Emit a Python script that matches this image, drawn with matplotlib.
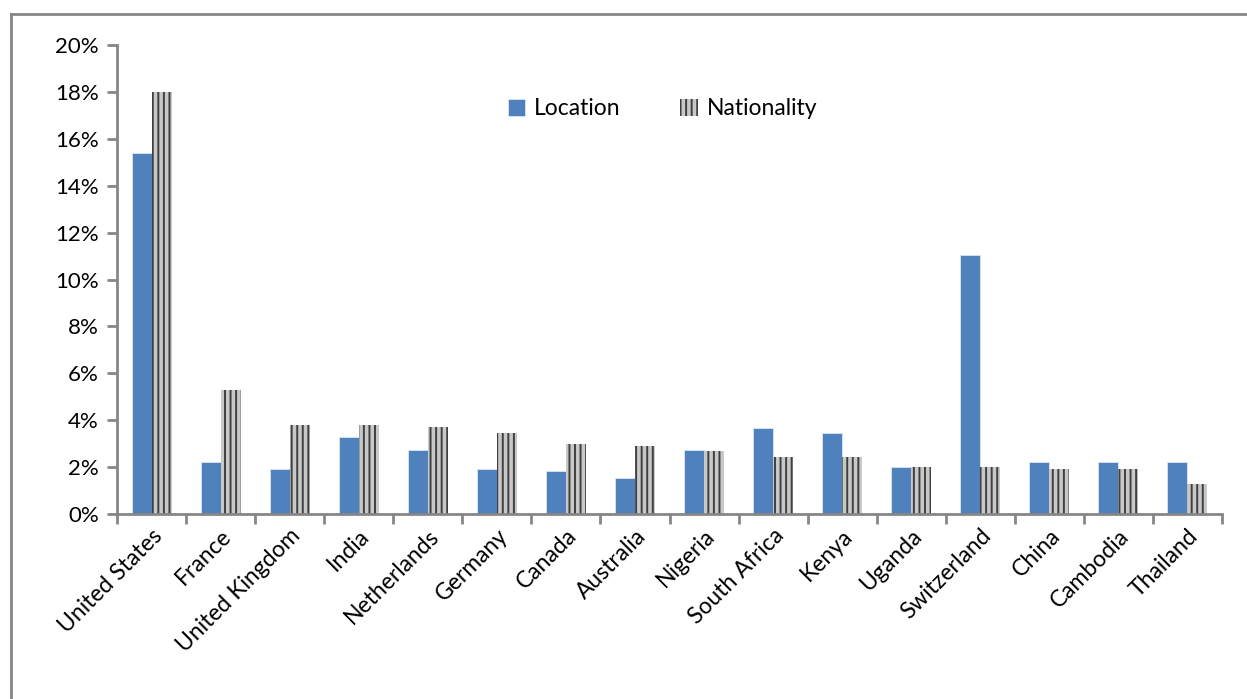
import numpy as np
import matplotlib
matplotlib.use("Agg")
import matplotlib.pyplot as plt
from matplotlib.lines import Line2D

countries = ["United States", "France", "United Kingdom", "India", "Netherlands",
             "Germany", "Canada", "Australia", "Nigeria", "South Africa", "Kenya",
             "Uganda", "Switzerland", "China", "Cambodia", "Thailand"]
location = [15.4, 2.2, 1.9, 3.3, 2.75, 1.9, 1.85, 1.55, 2.75, 3.65, 3.45,
            2.0, 11.05, 2.2, 2.2, 2.2]
nationality = [18.0, 5.3, 3.8, 3.8, 3.7, 3.45, 3.0, 2.9, 2.7, 2.45, 2.45,
               2.0, 2.0, 1.9, 1.9, 1.3]

plt.rcParams['font.family'] = ['Lato', 'DejaVu Sans']
plt.rcParams['hatch.linewidth'] = 1.4

fig = plt.figure(figsize=(12.47, 6.99), dpi=100)
ax = fig.add_axes([117/1247, 1 - 514/699, (1222 - 117)/1247, (514 - 45)/699])

x = np.arange(len(countries))
w = 0.29
ax.bar(x - w/2, location, w, color="#4f81bd", edgecolor="#dce6f2", linewidth=0.6,
       label="Location")
ax.bar(x + w/2, nationality, w, color="#c8c8c8", edgecolor="#404040", linewidth=0,
       hatch="|||", label="Nationality")

ax.set_xlim(-0.5, len(countries) - 0.5)
ax.set_ylim(0, 20)
ax.set_yticks(np.arange(0, 21, 2))
ax.set_yticklabels([f"{v}%" for v in range(0, 21, 2)], fontsize=16)
ax.set_xticks(x)
ax.set_xticklabels(countries, rotation=45, ha="right", rotation_mode="anchor", fontsize=16.5)
ax.set_xticks(np.arange(-0.5, len(countries)), minor=True)
ax.tick_params(axis="x", which="major", length=0, pad=8)
ax.tick_params(axis="x", which="minor", length=7, width=2, color="#868686", direction="out")
ax.tick_params(axis="y", length=7, width=2, color="#868686", direction="out", pad=6)

for s in ["top", "right"]:
    ax.spines[s].set_visible(False)
for s in ["left", "bottom"]:
    ax.spines[s].set_color("#868686")
    ax.spines[s].set_linewidth(2)

ax.legend(loc="upper left", bbox_to_anchor=(0.335, 0.93), ncol=2, frameon=False,
          fontsize=16.5, handlelength=0.75, handleheight=0.75, columnspacing=2.6,
          handletextpad=0.4)

# outer chart border
fig.add_artist(Line2D([11/1247, 11/1247], [0, 1 - 14/699], transform=fig.transFigure,
                      color="#868686", linewidth=2))
fig.add_artist(Line2D([11/1247, 1], [1 - 14/699, 1 - 14/699], transform=fig.transFigure,
                      color="#868686", linewidth=2))

fig.savefig("out.png", dpi=100)
